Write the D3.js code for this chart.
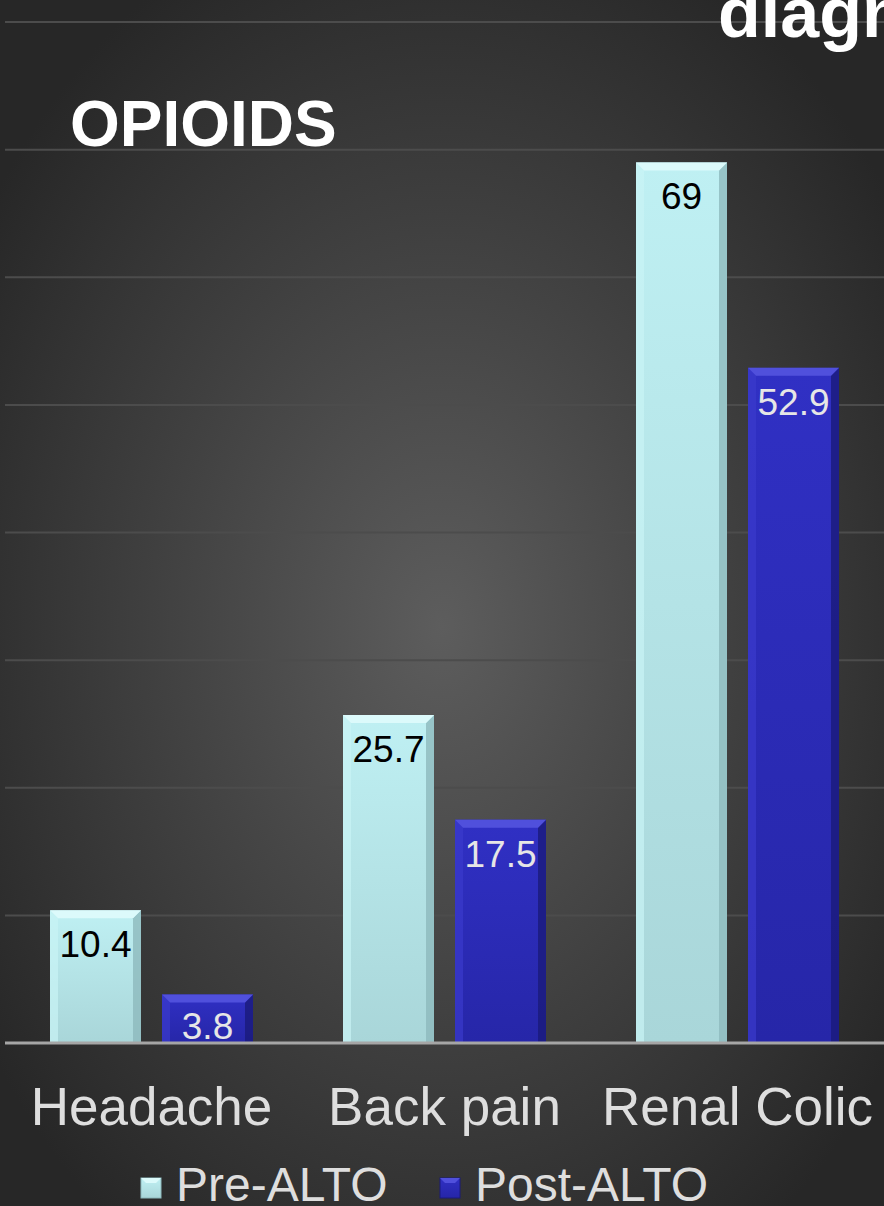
<!DOCTYPE html>
<html>
<head>
<meta charset="utf-8">
<script src="https://cdn.jsdelivr.net/npm/d3@7"></script>
<style>
  html, body { margin: 0; padding: 0; background: #2a2a2a; }
  svg { display: block; }
  text { font-family: "Liberation Sans", Arial, sans-serif; }
</style>
</head>
<body>
<div id="chart"></div>
<script>
// data
var categories = ["Headache", "Back pain", "Renal Colic"]
var seriesNames = ["Pre-ALTO", "Post-ALTO"]
var preAlto = [10.4, 25.7, 69]
var postAlto = [3.8, 17.5, 52.9]
var valueLabels = [["10.4", "3.8"], ["25.7", "17.5"], ["69", "52.9"]]
var yTicks = [10, 20, 30, 40, 50, 60, 70, 80]

var w = 884
var h = 1206

var svg = d3.select("#chart")
    .append("svg")
    .attr("width", w)
    .attr("height", h)

var defs = svg.append("defs")

// background glow
var bg = defs.append("radialGradient")
    .attr("id", "bg")
    .attr("cx", "50%").attr("cy", "52%").attr("r", "62%")
bg.append("stop").attr("offset", "0%").attr("stop-color", "#5d5d5d")
bg.append("stop").attr("offset", "55%").attr("stop-color", "#3f3f3f")
bg.append("stop").attr("offset", "100%").attr("stop-color", "#272727")

svg.append("rect")
    .attr("width", w)
    .attr("height", h)
    .attr("fill", "url(#bg)")

// bar colours
var styles = [
    {main: ["#bff0f3", "#a9d6d9"], top: "#dcfafb", left: "#c9f3f5", right: "#8db9bd", text: "#000000"},
    {main: ["#3030c4", "#2626a8"], top: "#5050dc", left: "#3a3acc", right: "#1a1a7a", text: "#e6e6e6"}
]

styles.forEach(function(s, i) {
    var g = defs.append("linearGradient")
        .attr("id", "bar" + i)
        .attr("x1", 0).attr("y1", 0).attr("x2", 0).attr("y2", 1)
    g.append("stop").attr("offset", "0%").attr("stop-color", s.main[0])
    g.append("stop").attr("offset", "100%").attr("stop-color", s.main[1])
})

// scales
var x = d3.scaleBand()
    .domain(categories)
    .range([5, 884])

var xInner = d3.scaleBand()
    .domain(seriesNames)
    .range([45, 248])
    .paddingInner(0.1875)

var y = d3.scaleLinear()
    .domain([0, 80])
    .range([1043, 22])

// gridlines
svg.append("g")
    .selectAll("line")
    .data(yTicks)
    .join("line")
    .attr("x1", 5)
    .attr("x2", w)
    .attr("y1", d => y(d))
    .attr("y2", d => y(d))
    .attr("stroke", "#4c4c4c")
    .attr("stroke-width", 2)

// title text (runs off the right edge like the slide)
svg.append("text")
    .attr("x", 718)
    .attr("y", 37)
    .attr("fill", "#ffffff")
    .attr("font-weight", "bold")
    .attr("font-size", 70)
    .text("diagnosis")

svg.append("text")
    .attr("x", 70)
    .attr("y", 146)
    .attr("fill", "#ffffff")
    .attr("font-weight", "bold")
    .attr("font-size", 64)
    .text("OPIOIDS")

// bars
var rows = []
categories.forEach(function(c, i) {
    rows.push({cat: c, series: 0, value: preAlto[i], label: valueLabels[i][0]})
    rows.push({cat: c, series: 1, value: postAlto[i], label: valueLabels[i][1]})
})

var bev = 8
var bars = svg.append("g")
    .selectAll("g")
    .data(rows)
    .join("g")

bars.each(function(d) {
    var g = d3.select(this)
    var s = styles[d.series]
    var x0 = x(d.cat) + xInner(seriesNames[d.series])
    var bw = xInner.bandwidth()
    var y0 = y(d.value)
    var y1 = y(0)
    var x1 = x0 + bw

    g.append("rect")
        .attr("x", x0)
        .attr("y", y0)
        .attr("width", bw)
        .attr("height", y1 - y0)
        .attr("fill", "url(#bar" + d.series + ")")

    g.append("polygon")
        .attr("points", [[x0, y0], [x0 + bev, y0 + bev], [x0 + bev, y1], [x0, y1]].join(" "))
        .attr("fill", s.left)
        .attr("opacity", 0.7)

    g.append("polygon")
        .attr("points", [[x1, y0], [x1 - bev, y0 + bev], [x1 - bev, y1], [x1, y1]].join(" "))
        .attr("fill", s.right)
        .attr("opacity", 0.8)

    g.append("polygon")
        .attr("points", [[x0, y0], [x1, y0], [x1 - bev, y0 + bev], [x0 + bev, y0 + bev]].join(" "))
        .attr("fill", s.top)

    g.append("text")
        .attr("x", x0 + bw / 2)
        .attr("y", Math.min(y0 + 47, y1 - 4))
        .attr("text-anchor", "middle")
        .attr("font-size", 37)
        .attr("fill", s.text)
        .text(d.label)
})

// baseline
svg.append("line")
    .attr("x1", 5)
    .attr("x2", w)
    .attr("y1", y(0))
    .attr("y2", y(0))
    .attr("stroke", "#a6a6a6")
    .attr("stroke-width", 3)

// category labels
svg.append("g")
    .selectAll("text")
    .data(categories)
    .join("text")
    .attr("x", d => x(d) + x.bandwidth() / 2)
    .attr("y", 1125)
    .attr("text-anchor", "middle")
    .attr("font-size", 53)
    .attr("fill", "#dedede")
    .text(d => d)

// legend
var legendX = [141, 440]
var legend = svg.append("g")
    .selectAll("g")
    .data(seriesNames)
    .join("g")
    .attr("transform", (d, i) => "translate(" + legendX[i] + ",1178)")

legend.append("rect")
    .attr("width", 20)
    .attr("height", 20)
    .attr("fill", (d, i) => "url(#bar" + i + ")")
    .attr("stroke", (d, i) => styles[i].right)
    .attr("stroke-width", 1)

legend.append("polygon")
    .attr("points", "0,0 20,0 15,5 5,5")
    .attr("fill", (d, i) => styles[i].top)

legend.append("text")
    .attr("x", 35)
    .attr("y", 23)
    .attr("font-size", 48)
    .attr("fill", "#dedede")
    .text(d => d)
</script>
</body>
</html>
